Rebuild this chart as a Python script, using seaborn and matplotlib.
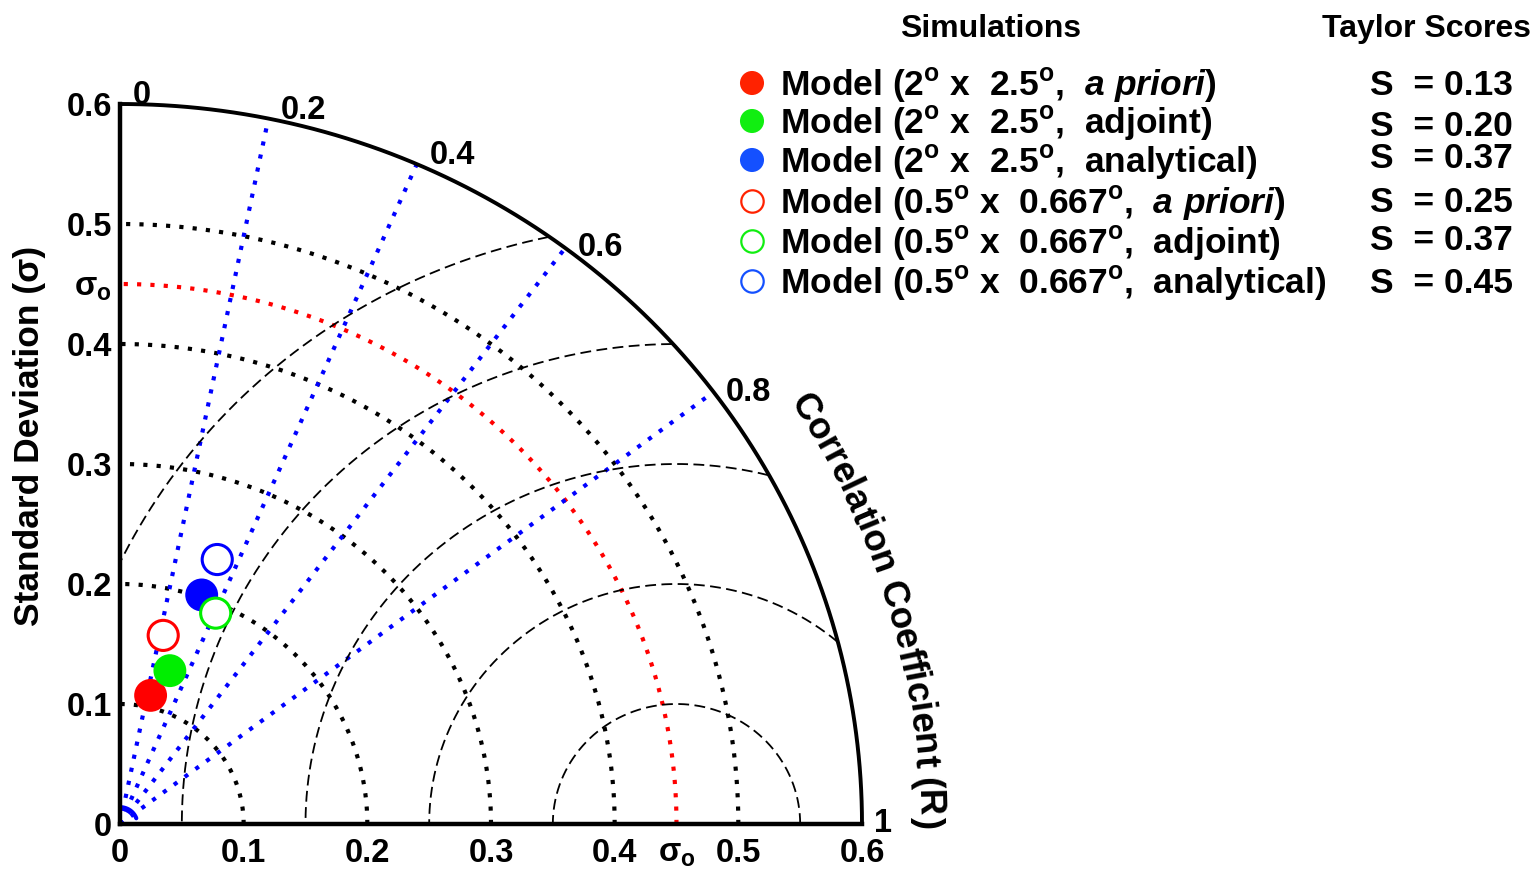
import numpy as np
import pandas as pd
import matplotlib
matplotlib.use("Agg")
import matplotlib.pyplot as plt
import seaborn as sns
from matplotlib.font_manager import FontProperties

# ---- data ----
deg = r"$^{\mathrm{o}}$"
labels = [
    f"Model (2{deg} x  2.5{deg},  " + r"$\mathit{a\ priori}$" + ")",
    f"Model (2{deg} x  2.5{deg},  adjoint)",
    f"Model (2{deg} x  2.5{deg},  analytical)",
    f"Model (0.5{deg} x  0.667{deg},  " + r"$\mathit{a\ priori}$" + ")",
    f"Model (0.5{deg} x  0.667{deg},  adjoint)",
    f"Model (0.5{deg} x  0.667{deg},  analytical)",
]
std_dev = [0.110, 0.134, 0.202, 0.161, 0.192, 0.234]
corr = [0.225, 0.301, 0.327, 0.217, 0.403, 0.336]
scores = [0.13, 0.20, 0.37, 0.25, 0.37, 0.45]
filled = [True, True, True, False, False, False]
colors = ["#ff0000", "#00ee00", "#0000ff", "#ff0000", "#00ee00", "#0000ff"]
legend_colors = ["#ff2200", "#11ee11", "#1450ff", "#ff2200", "#11ee11", "#1450ff"]

sigma_obs = 0.45
std_max = 0.6
std_ticks = [0, 0.1, 0.2, 0.3, 0.4, 0.5, 0.6]
std_circles = [0.1, 0.2, 0.3, 0.4, 0.5]
corr_lines = [0.2, 0.4, 0.6, 0.8]
corr_labels = [0, 0.2, 0.4, 0.6, 0.8, 1]
rms_levels = [0.1, 0.2, 0.3, 0.4, 0.5]

# ---- style ----
sns.set_style("white")
plt.rcParams["font.family"] = ["Liberation Sans", "DejaVu Sans"]
plt.rcParams["font.weight"] = "bold"
plt.rcParams["mathtext.fontset"] = "custom"
plt.rcParams["mathtext.rm"] = "Liberation Sans:bold"
plt.rcParams["mathtext.bf"] = "Liberation Sans:bold"
plt.rcParams["mathtext.it"] = "Liberation Sans:italic:bold"
for key in ["text.color", "axes.labelcolor", "xtick.color", "ytick.color", "axes.edgecolor"]:
    plt.rcParams[key] = "black"

fig = plt.figure(figsize=(15.37, 8.74), dpi=100)
ax = fig.add_axes([120 / 1537, 50 / 874, 742 / 1537, 720 / 874])
ax.set_xlim(0, std_max)
ax.set_ylim(0, std_max)

dotted = (0, (1, 2.2))
dot_lw = 3.0
t = np.linspace(0, np.pi / 2, 400)

# std dev circles
for r in std_circles:
    ax.plot(r * np.cos(t), r * np.sin(t), color="black", ls=dotted, lw=dot_lw)
ax.plot(sigma_obs * np.cos(t), sigma_obs * np.sin(t), color="red", ls=dotted, lw=dot_lw)

# correlation rays
for R in corr_lines:
    ax.plot([0, std_max * R], [0, std_max * np.sqrt(1 - R ** 2)],
            color="#0000ff", ls=dotted, lw=dot_lw)
ts = np.linspace(np.radians(20), np.radians(85), 30)
ax.plot(0.014 * np.cos(ts), 0.014 * np.sin(ts), color="#0000ff", lw=3, clip_on=False)

# centred RMS difference arcs
t2 = np.linspace(0, np.pi, 1200)
for rad in rms_levels:
    px = sigma_obs + rad * np.cos(t2)
    py = rad * np.sin(t2)
    keep = (px >= 0) & (px ** 2 + py ** 2 <= std_max ** 2)
    ax.plot(px[keep], py[keep], color="black", ls=(0, (6, 3)), lw=1.3)

# outer boundary
ax.plot(std_max * np.cos(t), std_max * np.sin(t), color="black", lw=2.8,
        clip_on=False, solid_capstyle="butt")

# model points
theta = np.arccos(corr)
df = pd.DataFrame({
    "x": np.array(std_dev) * np.cos(theta),
    "y": np.array(std_dev) * np.sin(theta),
    "label": labels,
    "filled": filled,
})
pal = dict(zip(labels, colors))
sns.scatterplot(data=df[df["filled"]], x="x", y="y", hue="label", palette=pal,
                s=560, edgecolor="none", legend=False, ax=ax, zorder=5)
sns.scatterplot(data=df[~df["filled"]], x="x", y="y", hue="label", palette=pal,
                s=470, linewidth=2.2, legend=False, ax=ax, zorder=5)
coll = ax.collections[-1]
coll.set_edgecolor(coll.get_facecolor())
coll.set_facecolor("white")

# axes cosmetics
for side in ["top", "right"]:
    ax.spines[side].set_visible(False)
for side in ["left", "bottom"]:
    ax.spines[side].set_linewidth(3.2)
    ax.spines[side].set_color("black")
    ax.spines[side].set_zorder(6)

tick_pos = std_ticks + [sigma_obs]
tick_lab = ["0" if v == 0 else f"{v:.1f}" for v in std_ticks] + ["σ$_{\\mathrm{o}}$"]
ax.set_xticks(tick_pos)
ax.set_xticklabels(tick_lab)
ax.set_yticks(tick_pos)
ax.set_yticklabels(tick_lab)
ax.tick_params(axis="both", direction="in", length=7, width=2.5, labelsize=23.5,
               color="black", labelcolor="black")
ax.tick_params(axis="x", pad=10)
ax.tick_params(axis="y", pad=6)
ax.set_xlabel("")
ax.set_ylabel("Standard Deviation (σ)", fontsize=25.5, fontweight="bold", color="black")
ax.yaxis.set_label_coords(-0.1, 0.539)

# correlation labels
for R in corr_labels:
    px, py = std_max * R, std_max * np.sqrt(1 - R ** 2)
    va = "baseline" if R <= 0.4 else "center"
    ax.annotate(f"{R:g}", xy=(px, py), xytext=(9, 0), textcoords="offset points",
                ha="left", va=va, fontsize=23.5, annotation_clip=False)

# curved axis title
fig.canvas.draw()
renderer = fig.canvas.get_renderer()
title = "Correlation Coefficient (R)"
tsize = 26.5
prop = FontProperties(family="Liberation Sans", weight="bold", size=tsize)
w0 = renderer.get_text_width_height_descent("||", prop, ismath=False)[0]


def advance(sub):
    return renderer.get_text_width_height_descent("|" + sub + "|", prop, ismath=False)[0] - w0


r_base = 0.645
p0 = ax.transData.transform((0, 0))
p1 = ax.transData.transform((r_base, r_base))
rpx = ((p1[0] - p0[0]) + (p1[1] - p0[1])) / 2
th0 = np.radians(33.0)
for i, ch in enumerate(title):
    if ch == " ":
        continue
    mid = (advance(title[:i]) + advance(title[:i + 1])) / 2
    th = th0 - mid / rpx
    ax.text(r_base * np.cos(th), r_base * np.sin(th), ch, rotation=np.degrees(th) - 90,
            rotation_mode="anchor", ha="center", va="baseline", fontsize=tsize,
            clip_on=False)

# legend / score table (pixel-based overlay)
lax = fig.add_axes([0, 0, 1, 1], zorder=10)
lax.set_xlim(0, 1537)
lax.set_ylim(874, 0)
lax.axis("off")
lax.text(991, 29, "Simulations", ha="center", va="center", fontsize=23)
lax.text(1426, 29, "Taylor Scores", ha="center", va="center", fontsize=23)

label_base = [95, 133, 172, 213, 253, 293]
score_base = [95, 136, 168, 212, 250, 293]
for i in range(len(labels)):
    y = label_base[i]
    if filled[i]:
        lax.scatter(752, y - 12, s=300, color=legend_colors[i], edgecolor="none")
    else:
        lax.scatter(752, y - 12, s=260, facecolor="white", edgecolor=legend_colors[i],
                    linewidth=1.6)
    lax.text(780, y, labels[i], ha="left", va="baseline", fontsize=25.5)
    lax.text(1370, score_base[i], f"S  = {scores[i]:.2f}", ha="left", va="baseline",
             fontsize=25.5)

fig.savefig("out.png", dpi=100)
